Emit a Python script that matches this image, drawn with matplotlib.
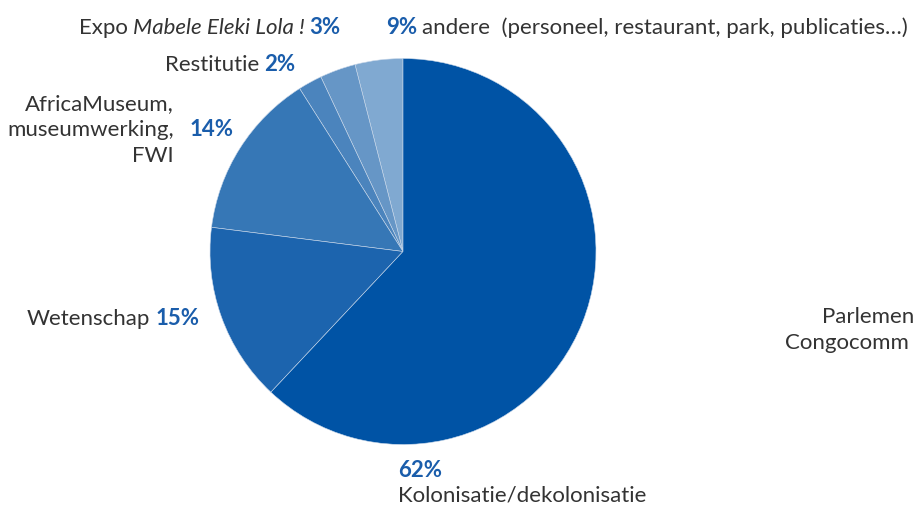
import matplotlib
matplotlib.use("Agg")
import matplotlib.pyplot as plt

# slices counter-clockwise from 12 o'clock
labels = ["andere", "Expo", "Restitutie", "AfricaMuseum", "Wetenschap", "Kolonisatie/dekolonisatie"]
shares = [4, 3, 2, 14, 15, 62]
pct_text = ["9%", "3%", "2%", "14%", "15%", "62%"]
colors = ["#80A9D1", "#6696C6", "#4B84BD", "#3677B6", "#1C64AE", "#0053A5"]

W, H = 914, 506
GRAY = "#333333"
BLUE = "#1A5DAB"
FS = 16

plt.rcParams["font.family"] = ["Lato", "DejaVu Sans"]

fig = plt.figure(figsize=(W / 100, H / 100), dpi=100)
ax = fig.add_axes([0, 0, 1, 1])

ax.pie(shares, colors=colors, startangle=90, counterclock=True,
       center=(403, H - 252.5), radius=193,
       wedgeprops=dict(edgecolor="#c9d8ea", linewidth=0.4))
ax.set_xlim(0, W)
ax.set_ylim(0, H)
ax.set_aspect("equal")
ax.axis("off")

renderer = fig.canvas.get_renderer()


def put(x, y_top, parts):
    """Write a line made of (text, kwargs) pieces one after the other."""
    x0 = x
    for s, kw in parts:
        t = ax.text(x0, H - y_top, s, fontsize=FS, va="baseline", ha="left", **kw)
        x0 = t.get_window_extent(renderer).x1 + 5


g = dict(color=GRAY)
gi = dict(color=GRAY, style="italic")
b = dict(color=BLUE, weight="bold")

put(79, 34, [("Expo", g), ("Mabele Eleki Lola !", gi), (pct_text[1], b)])
put(386, 34, [(pct_text[0], b), ("andere  (personeel, restaurant, park, publicaties\u2026)", g)])
put(165, 71, [("Restitutie", g), (pct_text[2], b)])
for i, line in enumerate(["AfricaMuseum,", "museumwerking,", "FWI"]):
    ax.text(174, H - (110 + 26 * i), line, fontsize=FS, va="baseline", ha="right", color=GRAY)
ax.text(190, H - 136, pct_text[3], fontsize=FS, va="baseline", color=BLUE, weight="bold")
put(27, 325, [("Wetenschap", g), (pct_text[4], b)])
ax.text(398, H - 477, pct_text[5], fontsize=FS, va="baseline", color=BLUE, weight="bold")
ax.text(398, H - 502, labels[5], fontsize=FS, va="baseline", color=GRAY)

# labels of the next chart, cut off at the right edge
ax.text(822, H - 323, "Parlemen", fontsize=FS, va="baseline", color=GRAY)
ax.text(785, H - 349, "Congocomm", fontsize=FS, va="baseline", color=GRAY)

fig.savefig("out.png", dpi=100)
